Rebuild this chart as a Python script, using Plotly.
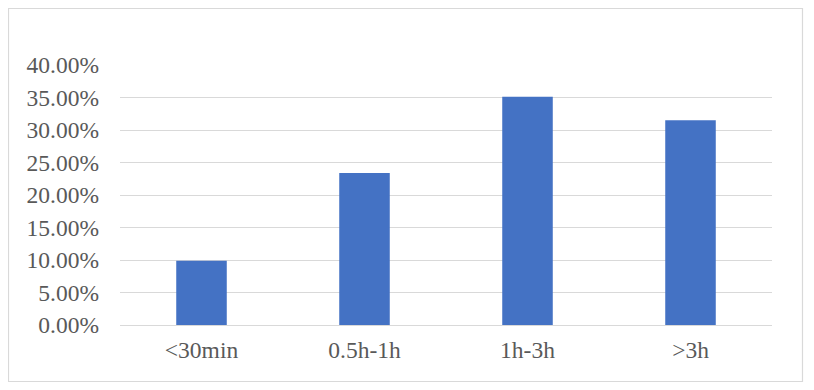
import plotly.graph_objects as go

categories = ["<30min", "0.5h-1h", "1h-3h", ">3h"]
values = [0.099, 0.234, 0.351, 0.315]
tick_vals = [0, 0.05, 0.10, 0.15, 0.20, 0.25, 0.30, 0.35, 0.40]
tick_text = ["0.00%", "5.00%", "10.00%", "15.00%", "20.00%", "25.00%", "30.00%", "35.00%", "40.00%"]

OFF = 8  # default page body margin
W, H = 814 - OFF, 390 - OFF
L, R, T, B = 120 - OFF, 42, 65 - OFF, 65
pw, ph = W - L - R, H - T - B

def px_to_paper_x(x):
    return (x - OFF - L) / pw

def px_to_paper_y(y):
    return (H - B - (y - OFF)) / ph

fig = go.Figure(go.Bar(
    x=categories, y=values,
    marker=dict(color="#4472C4", line=dict(width=0)),
    width=0.31,
))

font = dict(family="Liberation Serif, Times New Roman, serif", size=23.5, color="#595959")

fig.update_layout(
    width=W, height=H,
    margin=dict(l=L, r=R, t=T, b=B),
    paper_bgcolor="white", plot_bgcolor="white",
    showlegend=False,
    font=font,
    shapes=[dict(
        type="rect", xref="paper", yref="paper",
        x0=px_to_paper_x(8.5), x1=px_to_paper_x(802.5),
        y0=px_to_paper_y(381.5), y1=px_to_paper_y(8.5),
        line=dict(color="#D9D9D9", width=1.2), layer="below",
    )],
)
fig.update_yaxes(
    range=[0, 0.40], tickvals=tick_vals, ticktext=tick_text,
    showgrid=True, gridcolor="#D9D9D9", gridwidth=1.2,
    zeroline=True, zerolinecolor="#D9D9D9", zerolinewidth=1.2,
    showline=False, ticks="", ticklabelstandoff=20,
    tickfont=font,
)
fig.update_xaxes(
    showline=False, ticks="", showgrid=False,
    tickfont=font, ticklabelstandoff=8,
)

fig.write_html("out.html")
